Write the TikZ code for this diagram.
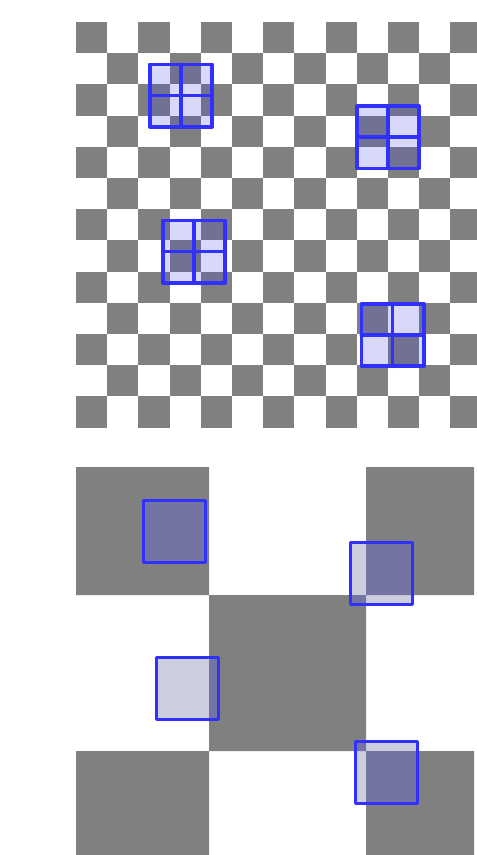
\documentclass[tikz,border=0pt]{standalone}
\definecolor{chk}{RGB}{128,128,128}
\definecolor{bblue}{RGB}{48,48,255}
\definecolor{tfill}{RGB}{50,50,240}
\definecolor{blight}{RGB}{205,206,221}
\definecolor{bdark}{RGB}{116,116,162}
\tikzset{
  bline/.style={draw=bblue, line width=3.6pt, line join=round, line cap=round},
  topbox/.pic={
    \fill[tfill, opacity=0.19] (-31.2,-31.2) rectangle (31.2,31.2);
    \draw[bline] (-31.2,-31.2) rectangle (31.2,31.2);
    \draw[bline] (0,-31.2) -- (0,31.2);
    \draw[bline] (-31.2,0) -- (31.2,0);
  }
}
\newcommand\mygraysquares{(76,467) rectangle (209,595) (366,467) rectangle (474,595) (209,595) rectangle (366,751) (76,751) rectangle (209,855) (366,751) rectangle (474,855)}
\newcommand\mybotbox[2]{%
  \begin{scope}
    \clip ({#1-31},{#2-31}) rectangle ({#1+31},{#2+31});
    \fill[blight] ({#1-31},{#2-31}) rectangle ({#1+31},{#2+31});
    \fill[bdark] \mygraysquares;
  \end{scope}
  \draw[bline, line width=3.3pt] ({#1-31},{#2-31}) rectangle ({#1+31},{#2+31});
}
\begin{document}
\begin{tikzpicture}[x=1pt,y=-1pt]
\useasboundingbox (0,0) rectangle (477,855);
% top checkerboard
\begin{scope}
  \clip (76,22) rectangle (477,427.6);
  \foreach \r in {0,...,12} {
    \foreach \c in {0,...,12} {
      \pgfmathtruncatemacro{\myp}{mod(\r+\c,2)}
      \ifnum\myp=0
        \fill[chk] ({76+31.2*\c},{22+31.2*\r}) rectangle +(31.2,31.2);
      \fi
    }
  }
\end{scope}
\pic at (181,95.5) {topbox};
\pic at (388,137.2) {topbox};
\pic at (194,251.6) {topbox};
\pic at (392.5,335) {topbox};
% bottom zoomed checkerboard
\fill[chk] \mygraysquares;
\mybotbox{174.2}{531.5}
\mybotbox{381.2}{573.8}
\mybotbox{187.5}{688.8}
\mybotbox{386.7}{772.2}
\end{tikzpicture}
\end{document}
